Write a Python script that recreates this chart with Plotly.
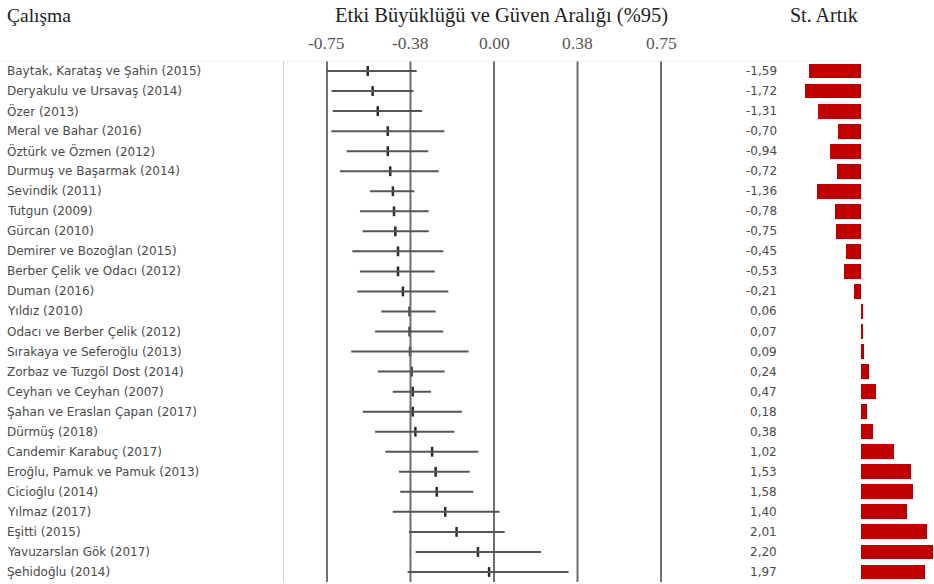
import plotly.graph_objects as go

studies = [
    "Baytak, Karataş ve Şahin (2015)", "Deryakulu ve Ursavaş (2014)", "Özer (2013)",
    "Meral ve Bahar (2016)", "Öztürk ve Özmen (2012)", "Durmuş ve Başarmak (2014)",
    "Sevindik (2011)", "Tutgun (2009)", "Gürcan (2010)", "Demirer ve Bozoğlan (2015)",
    "Berber Çelik ve Odacı (2012)", "Duman (2016)", "Yıldız (2010)",
    "Odacı ve Berber Çelik (2012)", "Sırakaya ve Seferoğlu (2013)",
    "Zorbaz ve Tuzgöl Dost (2014)", "Ceyhan ve Ceyhan (2007)",
    "Şahan ve Eraslan Çapan (2017)", "Dürmüş (2018)", "Candemir Karabuç (2017)",
    "Eroğlu, Pamuk ve Pamuk (2013)", "Cicioğlu (2014)", "Yılmaz (2017)",
    "Eşitti (2015)", "Yavuzarslan Gök (2017)", "Şehidoğlu (2014)",
]
effect = [-0.567, -0.545, -0.522, -0.477, -0.477, -0.466, -0.454, -0.449, -0.443,
          -0.431, -0.431, -0.409, -0.379, -0.379, -0.377, -0.370, -0.365, -0.365,
          -0.353, -0.278, -0.262, -0.257, -0.219, -0.168, -0.072, -0.022]
lower = [-0.751, -0.729, -0.724, -0.730, -0.661, -0.692, -0.557, -0.602, -0.590,
         -0.636, -0.602, -0.614, -0.506, -0.534, -0.641, -0.522, -0.455, -0.590,
         -0.534, -0.488, -0.427, -0.421, -0.455, -0.382, -0.352, -0.388]
upper = [-0.347, -0.362, -0.323, -0.223, -0.295, -0.248, -0.358, -0.293, -0.293,
         -0.228, -0.266, -0.205, -0.262, -0.228, -0.114, -0.222, -0.283, -0.144,
         -0.178, -0.070, -0.109, -0.093, 0.025, 0.048, 0.211, 0.335]
residuals = [-1.59, -1.72, -1.31, -0.70, -0.94, -0.72, -1.36, -0.78, -0.75, -0.45,
             -0.53, -0.21, 0.06, 0.07, 0.09, 0.24, 0.47, 0.18, 0.38, 1.02, 1.53,
             1.58, 1.40, 2.01, 2.20, 1.97]
tick_vals = [-0.75, -0.375, 0.0, 0.375, 0.75]
tick_text = ["-0.75", "-0.38", "0.00", "0.38", "0.75"]

W, H = 934, 584
rows = list(range(len(studies)))
SERIF = "Liberation Serif, Times New Roman, serif"
SANS = "DejaVu Sans, Tahoma, sans-serif"

fig = go.Figure()

# vertical reference lines
for tv in tick_vals:
    fig.add_shape(type="line", xref="x", yref="y", x0=tv, x1=tv, y0=-0.55, y1=25.5,
                  line=dict(color="#6e6e6e", width=2))
fig.add_shape(type="line", xref="x", yref="y", x0=-0.9475, x1=-0.9475, y0=-0.55, y1=25.5,
              line=dict(color="#cfcfcf", width=2))
fig.add_shape(type="line", xref="paper", yref="paper", x0=0, x1=863 / W,
              y0=1 - 61 / H, y1=1 - 61 / H, line=dict(color="#f0f0f0", width=1))

# CI lines
for i in rows:
    fig.add_shape(type="line", xref="x", yref="y", x0=lower[i], x1=upper[i], y0=i, y1=i,
                  line=dict(color="#555555", width=2))

fig.add_trace(go.Scatter(
    x=effect, y=rows, mode="markers", xaxis="x", yaxis="y",
    marker=dict(symbol="line-ns", size=7, line=dict(color="#2a2a2a", width=2.5)),
    showlegend=False, hoverinfo="skip"))

fig.add_trace(go.Bar(
    x=residuals, y=rows, orientation="h", xaxis="x2", yaxis="y",
    marker=dict(color="#c00000", line=dict(width=0)), width=0.74,
    showlegend=False, hoverinfo="skip"))

ann = []
for i, s in enumerate(studies):
    ann.append(dict(x=5 / W, xref="paper", y=i, yref="y", text=s, showarrow=False,
                    xanchor="left", yanchor="middle",
                    font=dict(family=SANS, size=12, color="#4a4a4a")))
    ann.append(dict(x=779 / W, xref="paper", y=i, yref="y",
                    text=f"{residuals[i]:.2f}".replace(".", ","), showarrow=False,
                    xanchor="right", yanchor="middle",
                    font=dict(family=SANS, size=12, color="#4a4a4a")))
for tv, tt in zip(tick_vals, tick_text):
    ann.append(dict(x=tv, xref="x", y=1 - 43 / H, yref="paper", text=tt, showarrow=False,
                    xanchor="center", yanchor="middle",
                    font=dict(family=SERIF, size=17.5, color="#555555")))
ann.append(dict(x=5 / W, xref="paper", y=1 - 15 / H, yref="paper", text="Çalışma",
                showarrow=False, xanchor="left", yanchor="middle",
                font=dict(family=SERIF, size=19.5, color="#222222")))
ann.append(dict(x=502 / W, xref="paper", y=1 - 15 / H, yref="paper",
                text="Etki Büyüklüğü ve Güven Aralığı (%95)", showarrow=False,
                xanchor="center", yanchor="middle",
                font=dict(family=SERIF, size=20.5, color="#222222")))
ann.append(dict(x=824 / W, xref="paper", y=1 - 15 / H, yref="paper", text="St. Artık",
                showarrow=False, xanchor="center", yanchor="middle",
                font=dict(family=SERIF, size=20, color="#222222")))

fig.update_layout(
    width=W, height=H, margin=dict(l=0, r=0, t=0, b=0),
    paper_bgcolor="white", plot_bgcolor="rgba(0,0,0,0)",
    xaxis=dict(domain=[283 / W, 705 / W], range=[-0.9475, 0.9475], visible=False,
               fixedrange=True),
    xaxis2=dict(domain=[783 / W, 1.0], range=[-2.385, 2.232], visible=False,
                anchor="y", fixedrange=True),
    yaxis=dict(domain=[1 - 582 / H, 1 - 61 / H], range=[25.5, -0.5], visible=False,
               fixedrange=True),
    annotations=ann,
    bargap=0,
)

fig.write_html("out.html", config={"displayModeBar": False},
               post_script="document.body.style.margin='0';document.body.style.overflow='hidden';")
